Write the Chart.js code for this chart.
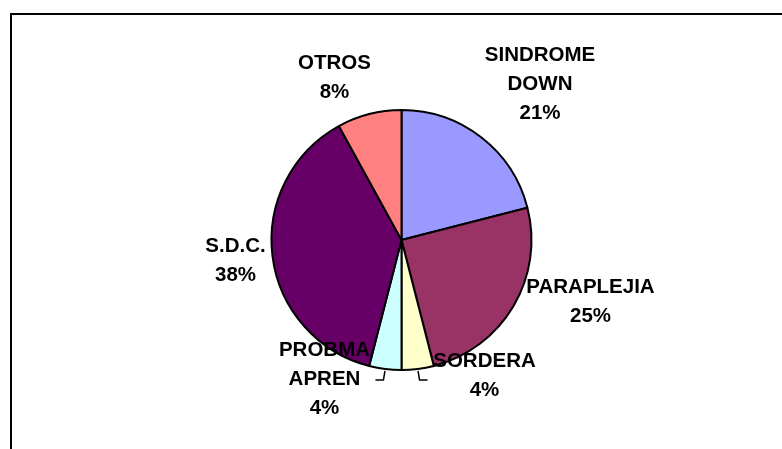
<!DOCTYPE html>
<html>
<head>
<meta charset="utf-8">
<script src="https://cdn.jsdelivr.net/npm/chart.js@4/dist/chart.umd.min.js"></script>
<style>
  html, body { margin: 0; padding: 0; background: #fff; overflow: hidden; }
  #frame { position: absolute; left: 10px; top: 13px; width: 900px; height: 600px; border: 2px solid #000; }
  #wrap { position: absolute; left: 0; top: 0; width: 782px; height: 449px; }
</style>
</head>
<body>
<div id="frame"></div>
<div id="wrap"><canvas id="pie"></canvas></div>
<script>
const categories = [['SINDROME', 'DOWN'], ['PARAPLEJIA'], ['SORDERA'], ['PROBMA', 'APREN'], ['S.D.C.'], ['OTROS']];
const values = [21, 25, 4, 4, 38, 8];
const sliceColors = ['#9999FF', '#993366', '#FFFFCC', '#CCFFFF', '#660066', '#FF8080'];

// where each label's first baseline sits, relative to the pie centre (px at r=130)
const labelOffsets = [[138.5, -179.5], [189, 52.7], [83, 127.3], [-77, 116], [-166, 11.7], [-67, -170.7]];
const withLeader = [false, false, true, true, false, false];
const lineHeight = 29;

document.addEventListener('DOMContentLoaded', () => {
    const total = values.reduce((s, v) => s + v, 0);

    const pieLabels = {
        id: 'pieLabels',
        afterDatasetsDraw(chart) {
            const ctx = chart.ctx;
            const arcs = chart.getDatasetMeta(0).data;
            ctx.save();
            ctx.fillStyle = '#000';
            ctx.strokeStyle = '#000';
            ctx.lineWidth = 1.5;
            ctx.font = 'bold 20.5px "Liberation Sans", Arial, sans-serif';
            ctx.textAlign = 'center';
            ctx.textBaseline = 'alphabetic';
            arcs.forEach((arc, i) => {
                const k = arc.outerRadius / 130;
                const lx = arc.x + labelOffsets[i][0] * k;
                const ly = arc.y + labelOffsets[i][1] * k;
                const lines = categories[i].concat(Math.round(values[i] / total * 100) + '%');
                lines.forEach((t, j) => ctx.fillText(t, lx, ly + j * lineHeight));

                if (withLeader[i]) {
                    const mid = (arc.startAngle + arc.endAngle) / 2;
                    const sign = Math.cos(mid) >= 0 ? 1 : -1;
                    const x0 = arc.x + (arc.outerRadius + 2) * Math.cos(mid);
                    const y0 = arc.y + (arc.outerRadius + 2) * Math.sin(mid);
                    ctx.beginPath();
                    ctx.moveTo(x0, y0);
                    ctx.lineTo(x0 + sign * 1.5, y0 + 9);
                    ctx.lineTo(x0 + sign * 9.5, y0 + 9);
                    ctx.stroke();
                }
            });
            ctx.restore();
        }
    };

    new Chart(document.getElementById('pie'), {
        type: 'pie',
        data: {
            labels: categories.map(c => c.join(' ')),
            datasets: [{
                data: values,
                backgroundColor: sliceColors,
                borderColor: '#000',
                borderWidth: 2,
                radius: 130
            }]
        },
        options: {
            responsive: true,
            maintainAspectRatio: false,
            animation: false,
            layout: { padding: { left: 41, right: 20, top: 61, bottom: 30 } },
            plugins: {
                legend: { display: false },
                tooltip: { enabled: false }
            }
        },
        plugins: [pieLabels]
    });
});
</script>
</body>
</html>
